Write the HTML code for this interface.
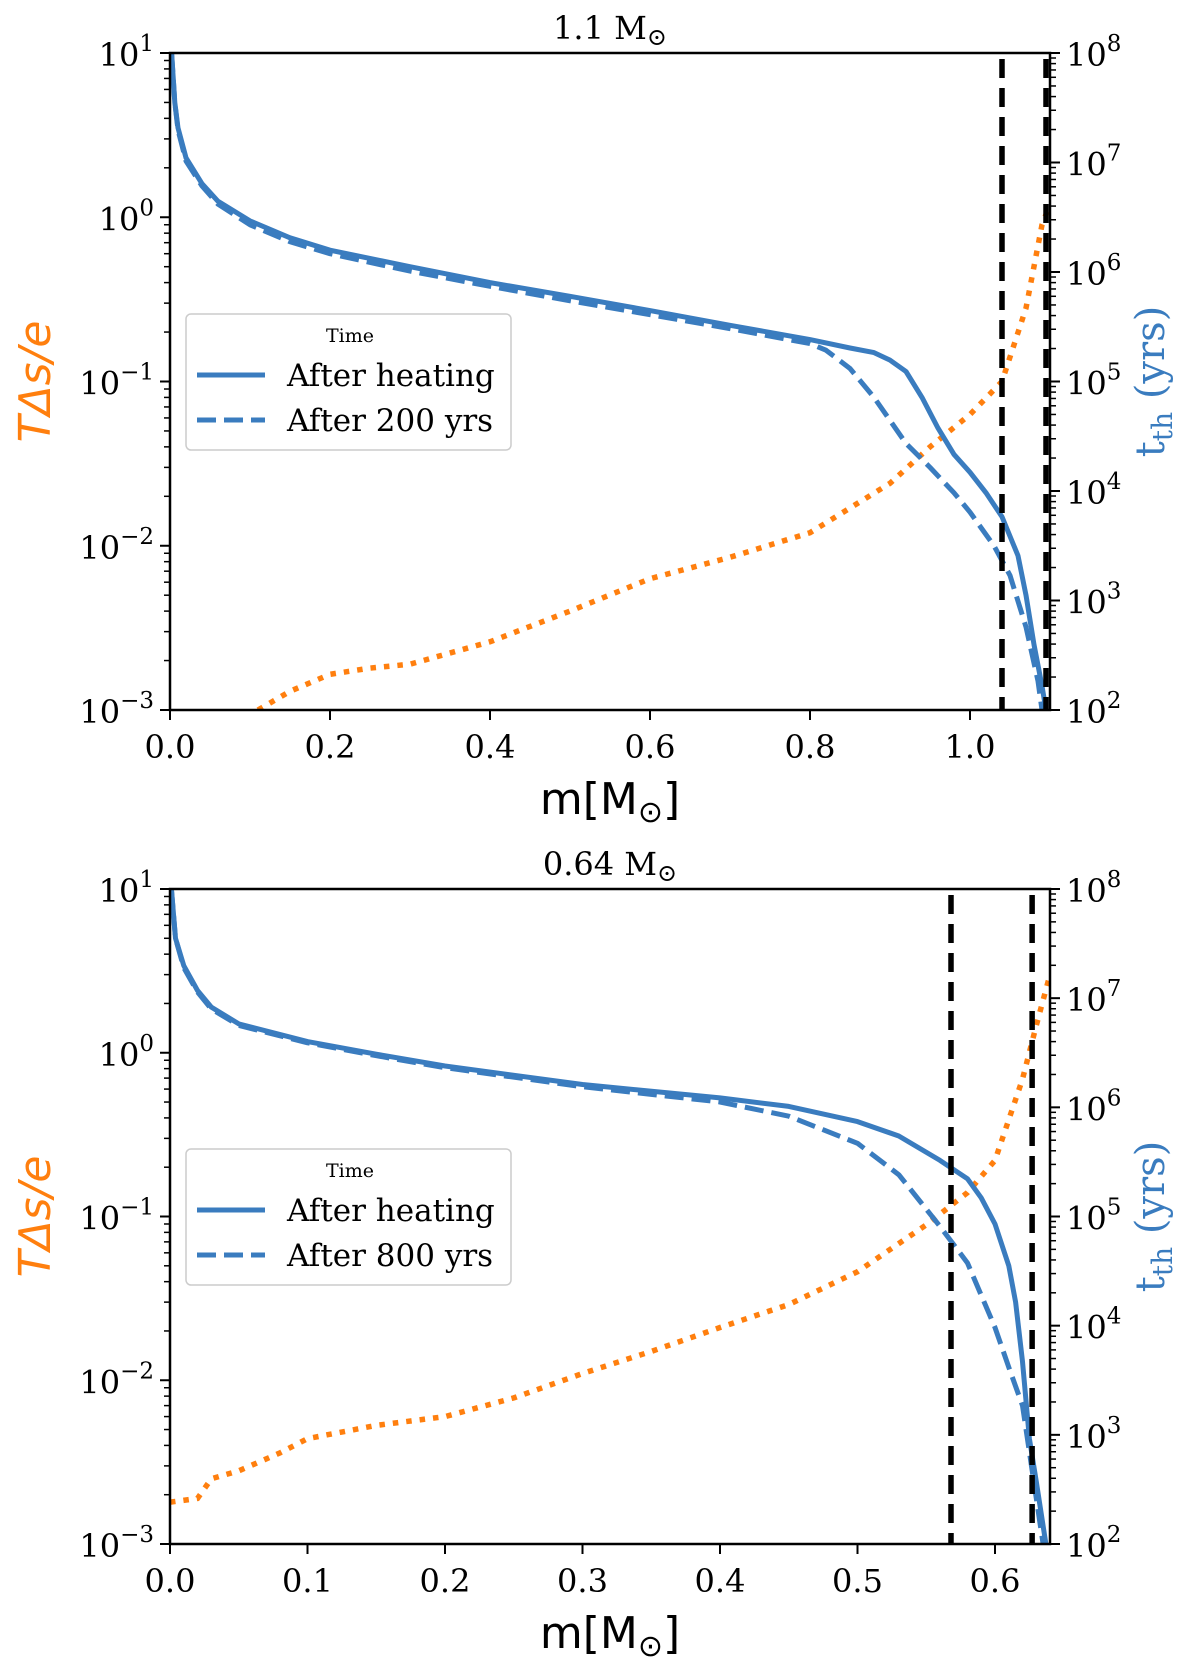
<!DOCTYPE html>
<html><head><meta charset="utf-8">
<style>
html,body{margin:0;padding:0;background:#fff;}
svg{display:block;}
.tk{font-family:"DejaVu Serif","Liberation Serif",serif;font-size:32px;fill:#000;}
.lt{font-family:"DejaVu Serif","Liberation Serif",serif;font-size:31px;fill:#000;}
.sup{font-size:23px;}
</style></head>
<body>
<svg id="fig" width="1200" height="1664" viewBox="0 0 1200 1664" xmlns="http://www.w3.org/2000/svg"></svg>
<script>
// ---------- data: top panel (1.1 Msun) ----------
const topSolidX = [0.002,0.006,0.01,0.02,0.04,0.06,0.1,0.15,0.2,0.3,0.4,0.5,0.6,0.7,0.8,0.85,0.88,0.9,0.92,0.94,0.96,0.98,1.0,1.02,1.04,1.06,1.07,1.08,1.09,1.095];
const topSolidY = [10,5,3.5,2.3,1.6,1.25,0.95,0.75,0.63,0.5,0.4,0.33,0.27,0.22,0.18,0.16,0.15,0.135,0.115,0.08,0.052,0.036,0.028,0.021,0.015,0.0087,0.005,0.0025,0.0014,0.001];
const topDashX = [0.002,0.006,0.01,0.02,0.04,0.06,0.1,0.15,0.2,0.3,0.4,0.5,0.6,0.7,0.8,0.82,0.85,0.88,0.92,0.95,0.98,1.0,1.03,1.05,1.07,1.085,1.09];
const topDashY = [10,5,3.4,2.2,1.55,1.2,0.9,0.71,0.6,0.47,0.38,0.31,0.255,0.21,0.17,0.155,0.12,0.08,0.042,0.03,0.021,0.016,0.01,0.0066,0.0032,0.0015,0.001];
const topOrangeX = [0.11,0.15,0.2,0.25,0.3,0.4,0.5,0.6,0.7,0.8,0.9,0.95,1.0,1.04,1.07,1.09,1.1];
const topOrangeY = [0.001,0.0013,0.00165,0.0018,0.0019,0.0026,0.004,0.0063,0.0085,0.012,0.024,0.04,0.063,0.1,0.28,0.9,1.2];
const topVlines = [1.04,1.095];
// ---------- data: bottom panel (0.64 Msun) ----------
const botSolidX = [0.001,0.004,0.01,0.02,0.03,0.05,0.1,0.15,0.2,0.3,0.4,0.45,0.5,0.53,0.56,0.58,0.59,0.6,0.61,0.615,0.62,0.625,0.63,0.637];
const botSolidY = [10,5,3.4,2.4,1.9,1.5,1.17,0.98,0.83,0.64,0.53,0.47,0.38,0.31,0.22,0.17,0.13,0.09,0.05,0.03,0.013,0.0044,0.0024,0.001];
const botDashX = [0.001,0.004,0.01,0.02,0.03,0.05,0.1,0.15,0.2,0.3,0.4,0.45,0.5,0.53,0.56,0.58,0.6,0.61,0.62,0.63,0.635];
const botDashY = [10,5,3.3,2.35,1.85,1.47,1.15,0.96,0.81,0.62,0.5,0.41,0.28,0.18,0.087,0.052,0.021,0.012,0.007,0.0019,0.001];
const botOrangeX = [0,0.02,0.03,0.05,0.08,0.1,0.15,0.2,0.25,0.3,0.35,0.4,0.45,0.5,0.55,0.58,0.6,0.62,0.63,0.64];
const botOrangeY = [0.0018,0.0019,0.0025,0.0028,0.0036,0.0044,0.0053,0.006,0.0078,0.011,0.015,0.021,0.029,0.046,0.089,0.14,0.22,0.69,1.47,3];
const botVlines = [0.568,0.627];
const topXTicks = [0,0.2,0.4,0.6,0.8,1.0];
const botXTicks = [0,0.1,0.2,0.3,0.4,0.5,0.6];
const leftExps = [-3,-2,-1,0,1];
const rightExps = [2,3,4,5,6,7,8];

const NS="http://www.w3.org/2000/svg";
const svg=document.getElementById('fig');
function mk(tag,attrs,parent){const e=document.createElementNS(NS,tag);for(const k in attrs)e.setAttribute(k,attrs[k]);(parent||svg).appendChild(e);return e;}

function panel(o){
  const g=mk('g',{});
  
  
  const L=170,R=1050,T=o.top,B=o.bot;
  const xs=v=>L+(v-0)/(o.xmax)*(R-L);
  const ys=v=>B-(Math.log10(v)+3)/4*(B-T);
  const yr=v=>B-(Math.log10(v)-2)/6*(B-T);
  const clip='c'+o.id;
  const cp=mk('clipPath',{id:clip},g);mk('rect',{x:L,y:T,width:R-L,height:B-T},cp);
  const path=(X,Y)=>X.map((x,i)=>(i?'L':'M')+xs(x).toFixed(1)+','+ys(Y[i]).toFixed(1)).join(' ');
  let p=mk('path',{d:path(o.ox,o.oy),fill:'none',stroke:'#ff7f0e','stroke-width':5.5,'stroke-dasharray':'5.5 8','clip-path':`url(#${clip})`},g);
  
  p=mk('path',{d:path(o.dx,o.dy),fill:'none',stroke:'#3a7cbf','stroke-width':5,'stroke-dasharray':'19 8','stroke-linejoin':'round','clip-path':`url(#${clip})`},g);
  
  p=mk('path',{d:path(o.sx,o.sy),fill:'none',stroke:'#3a7cbf','stroke-width':5,'stroke-linejoin':'round','clip-path':`url(#${clip})`},g);
  
  o.vl.forEach(v=>{const l=mk('line',{x1:xs(v),x2:xs(v),y1:T+6,y2:B,stroke:'#000','stroke-width':5.5,'stroke-dasharray':'19 10'},g);
    });
  mk('rect',{x:L,y:T,width:R-L,height:B-T,fill:'none',stroke:'#000','stroke-width':2.5},g);
  o.xt.forEach(v=>{const x=xs(v);mk('line',{x1:x,x2:x,y1:B,y2:B+10,stroke:'#000','stroke-width':2},g);
    const t=mk('text',{x:x,y:B+48,'text-anchor':'middle',class:'tk'},g);t.textContent=v.toFixed(1);
    });
  leftExps.forEach(e=>{const y=ys(Math.pow(10,e));mk('line',{x1:L-10,x2:L,y1:y,y2:y,stroke:'#000','stroke-width':2},g);
    const t=mk('text',{x:L-16,y:y+13,'text-anchor':'end',class:'tk'},g);
    
    t.innerHTML='10<tspan class="sup" dy="-15">'+(e<0?'\u2212'+(-e):e)+'</tspan>';
    if(e<1)for(let m=2;m<10;m++){const yy=ys(m*Math.pow(10,e));mk('line',{x1:L-6,x2:L,y1:yy,y2:yy,stroke:'#000','stroke-width':1.5},g);}
  });
  rightExps.forEach(e=>{const y=yr(Math.pow(10,e));mk('line',{x1:R,x2:R+10,y1:y,y2:y,stroke:'#000','stroke-width':2},g);
    const t=mk('text',{x:R+16,y:y+13,class:'tk'},g);
    
    t.innerHTML='10<tspan class="sup" dy="-15">'+e+'</tspan>';
    if(e<8)for(let m=2;m<10;m++){const yy=yr(m*Math.pow(10,e));mk('line',{x1:R,x2:R+6,y1:yy,y2:yy,stroke:'#000','stroke-width':1.5},g);}
  });
  let t=mk('text',{x:(L+R)/2,y:T-14,'text-anchor':'middle',class:'tk'},g);
  
  t.innerHTML=o.title+' M<tspan font-size="24" dy="6">\u2299</tspan>';
  t=mk('text',{x:(L+R)/2,y:B+104,'text-anchor':'middle','font-family':'DejaVu Sans, Liberation Sans, sans-serif','font-size':44},g);
  
  t.innerHTML='m[M<tspan font-size="30" dy="8">\u2299</tspan><tspan dy="-8">]</tspan>';
  const cy=(T+B)/2;
  t=mk('text',{x:0,y:0,transform:`translate(50,${cy}) rotate(-90)`,'text-anchor':'middle','font-family':'DejaVu Sans, Liberation Sans, sans-serif','font-size':44,'font-style':'italic',fill:'#ff7f0e'},g);
  
  t.textContent='T\u0394s/e';
  t=mk('text',{x:0,y:0,transform:`translate(1164,${cy}) rotate(-90)`,'text-anchor':'middle','font-family':'DejaVu Serif, Liberation Serif, serif','font-size':40,fill:'#3a7cbf'},g);
  
  t.innerHTML='t<tspan font-size="28" dy="8">th</tspan><tspan dy="-8"> (yrs)</tspan>';
  const lg=mk('g',{},g);
  
  const ly=o.leg;
  mk('rect',{x:186,y:ly,width:325,height:136,rx:5,fill:'#fff','fill-opacity':0.85,stroke:'#ccc','stroke-width':1.5},lg);
  t=mk('text',{x:350,y:ly+28,'text-anchor':'middle','font-family':'DejaVu Serif, Liberation Serif, serif','font-size':19},lg);t.textContent='Time';
  
  mk('line',{x1:197,x2:265,y1:ly+61,y2:ly+61,stroke:'#3a7cbf','stroke-width':5},lg);
  t=mk('text',{x:287,y:ly+72,class:'lt'},lg);t.textContent='After heating';
  
  mk('line',{x1:197,x2:265,y1:ly+106,y2:ly+106,stroke:'#3a7cbf','stroke-width':5,'stroke-dasharray':'19 8'},lg);
  t=mk('text',{x:287,y:ly+117,class:'lt'},lg);t.textContent=o.legText;
  
}
panel({id:1,name:'top-panel',top:53,bot:710,xmax:1.1,sx:topSolidX,sy:topSolidY,dx:topDashX,dy:topDashY,ox:topOrangeX,oy:topOrangeY,vl:topVlines,xt:topXTicks,title:'1.1',leg:314,legText:'After 200 yrs'});
panel({id:2,name:'bottom-panel',top:889,bot:1544,xmax:0.64,sx:botSolidX,sy:botSolidY,dx:botDashX,dy:botDashY,ox:botOrangeX,oy:botOrangeY,vl:botVlines,xt:botXTicks,title:'0.64',leg:1149,legText:'After 800 yrs'});
</script>
</body></html>
